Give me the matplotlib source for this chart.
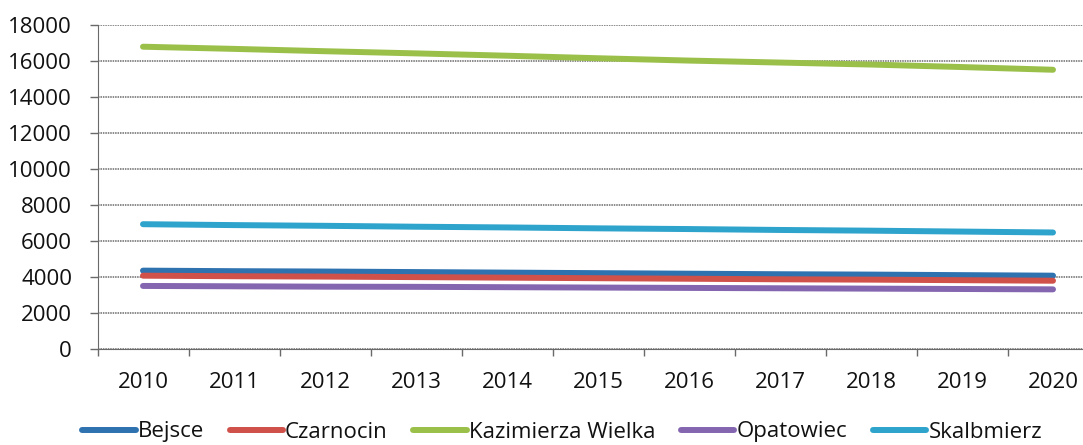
import numpy as np
import matplotlib.pyplot as plt

years = ['2010', '2011', '2012', '2013', '2014', '2015', '2016', '2017', '2018', '2019', '2020']

bejsce = [4370, 4340, 4320, 4290, 4260, 4230, 4200, 4170, 4150, 4120, 4090]
czarnocin = [4090, 4060, 4040, 4010, 3980, 3950, 3920, 3890, 3870, 3840, 3810]
kazimierza = [16810, 16690, 16560, 16440, 16310, 16170, 16040, 15930, 15820, 15680, 15530]
opatowiec = [3520, 3500, 3480, 3470, 3450, 3430, 3410, 3390, 3370, 3350, 3330]
skalbmierz = [6950, 6900, 6860, 6810, 6770, 6720, 6680, 6630, 6590, 6540, 6490]

names = ['Bejsce', 'Czarnocin', 'Kazimierza Wielka', 'Opatowiec', 'Skalbmierz']
series = [bejsce, czarnocin, kazimierza, opatowiec, skalbmierz]
colors = ['#2f72b0', '#d0504a', '#9bc04a', '#8466b0', '#2ea3cc']

plt.rcParams['font.family'] = ['Open Sans', 'DejaVu Sans']

fig = plt.figure(figsize=(10.83, 4.45), dpi=100)
# axes runs past the right edge of the picture, like in the scan
ax = fig.add_axes([97.5/1083, 1 - 349.3/445, 1001/1083, 324/445])

x = np.arange(len(years))
for vals, name, c in zip(series, names, colors):
    ax.plot(x, vals, color=c, lw=4.3, solid_capstyle='round', label=name, zorder=3)

ax.set_xlim(-0.5, 10.5)
ax.set_ylim(0, 18000)
ax.set_yticks(np.arange(0, 18001, 2000))
ax.yaxis.grid(True, color='#6a6a6a', lw=1.1, ls=(0, (1, 0.6)))
ax.set_axisbelow(True)

ax.set_xticks(x)
ax.set_xticklabels(years)
ax.set_xticks(np.arange(-0.5, 11, 1), minor=True)
ax.tick_params(axis='x', which='major', length=0, pad=16, labelsize=16, colors='#111111')
ax.tick_params(axis='x', which='minor', length=5, width=1, color='#6a6a6a')
ax.tick_params(axis='y', length=5.8, width=1, color='#6a6a6a', pad=12.5, labelsize=16, labelcolor='#111111')

for s in ['top', 'right']:
    ax.spines[s].set_visible(False)
ax.spines['left'].set_color('#6a6a6a')
ax.spines['bottom'].set_color('#6a6a6a')

fig.legend(loc='center', bbox_to_anchor=(0.519, 1 - 432/445), ncol=5, frameon=False,
           fontsize=16, handlelength=2.4, handletextpad=0.1, columnspacing=1.15,
           borderaxespad=0, labelcolor='#111111')

fig.savefig('out.png', dpi=100)
